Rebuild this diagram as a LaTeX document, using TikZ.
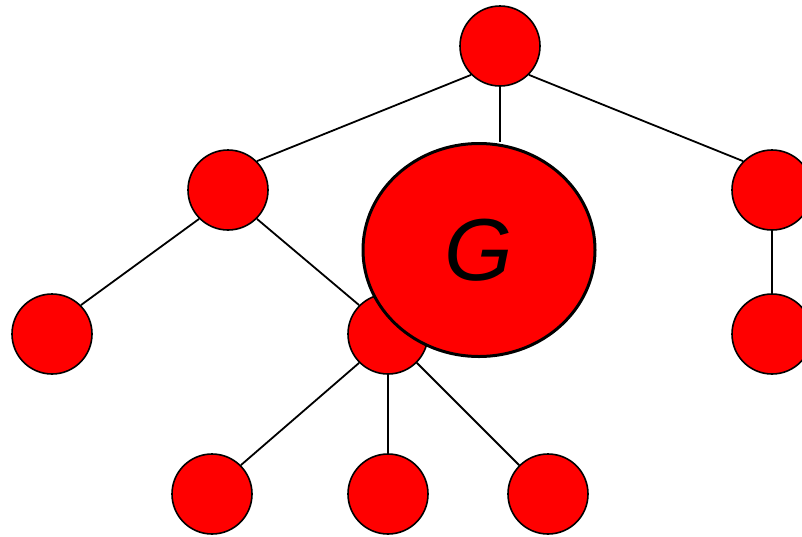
\documentclass[tikz,border=0pt]{standalone}
\usepackage{fontspec}
\setmainfont{Liberation Sans}
\usepackage{tikz}
\usetikzlibrary{positioning,shapes.geometric}

\begin{document}
\begin{tikzpicture}[x=1pt,y=-1pt,
    vert/.style={circle,draw,fill=red,line width=1.6pt,minimum size=80pt,inner sep=0pt},
    big/.style={ellipse,draw,fill=red,line width=3pt,minimum width=232pt,minimum height=213pt,inner sep=0pt,
        font=\fontsize{88}{88}\selectfont\itshape},
    link/.style={line width=1.8pt}]
    \useasboundingbox (0,0) rectangle (802,536);
    \clip (0,0) rectangle (802,536);
    \node[vert] at (500, 46) (r) {};
    \node[vert] at (228, 190) (a) {};
    \node[vert] at (772, 190) (b) {};
    \node[vert] at (52, 334) (a1) {};
    \node[vert] at (388, 334) (a2) {};
    \node[vert] at (772, 334) (b1) {};
    \node[vert] at (212, 494) (c1) {};
    \node[vert] at (388, 494) (c2) {};
    \node[vert] at (548, 494) (c3) {};

    \draw[link]       (r.south west) -- (a.north east);
    \draw[link]       (r.south east) -- (b.north west);
    \draw[link]       (a.south west) -- (a1.north east);
    \draw[link]       (a.south east) -- (a2.north west);
    \draw[link]       (b.south) -- (b1.north);
    \draw[link]       (a2.south west) -- (c1.north east);
    \draw[link]       (a2.south) -- (c2.north);
    \draw[link]       (a2.south east) -- (c3.north west);

    \node[big] at (479, 250) (g) {G};
    \draw[link]       (r.south) -- (r.south |- g.north);
\end{tikzpicture}
\end{document}
